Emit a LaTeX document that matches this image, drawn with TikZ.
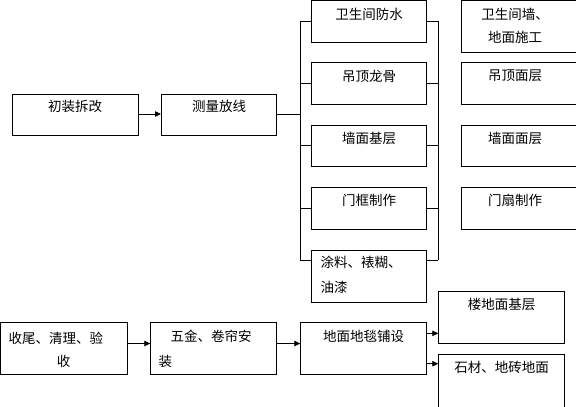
\documentclass[tikz,border=0pt]{standalone}
\usepackage{fontspec}
\newfontfamily\cjk{Noto Sans CJK SC}
\usetikzlibrary{arrows.meta}
\tikzset{
  box/.style={draw=black, line width=0.8bp, inner sep=0pt, outer sep=0pt},
  lbl/.style={inner sep=0pt, font=\cjk\fontsize{13.5bp}{16bp}\selectfont, text=black},
  conn/.style={draw=black, line width=0.8bp},
  arr/.style={conn, -{Triangle[length=6bp,width=5.5bp]}}
}
\newcommand{\mkbox}[5]{\node[box, minimum width=#4-#2, minimum height=#5-#3, anchor=north west] (#1) at (#2,#3) {};}
\begin{document}
\begin{tikzpicture}[x=1bp,y=-1bp]
\useasboundingbox (0,0) rectangle (576,406);
\clip (0,0) rectangle (576,406);
% boxes
\node[box, minimum width=126bp, minimum height=41bp, anchor=north west] (a) at (12,94) {};
\node[box, minimum width=115.5bp, minimum height=41bp, anchor=north west] (b) at (161,94) {};
\node[box, minimum width=115.4bp, minimum height=41.8bp, anchor=north west] (c1) at (311.3,0.5) {};
\node[box, minimum width=115.4bp, minimum height=42bp, anchor=north west] (c2) at (311.3,62.3) {};
\node[box, minimum width=115.4bp, minimum height=41bp, anchor=north west] (c3) at (311.3,125.3) {};
\node[box, minimum width=115.4bp, minimum height=42bp, anchor=north west] (c4) at (311.3,187.3) {};
\node[box, minimum width=115.4bp, minimum height=52bp, anchor=north west] (c5) at (311.3,250.3) {};
\node[box, minimum width=130bp, minimum height=51.8bp, anchor=north west] (d1) at (461.3,0.5) {};
\node[box, minimum width=130bp, minimum height=42bp, anchor=north west] (d2) at (461.3,62.3) {};
\node[box, minimum width=130bp, minimum height=41bp, anchor=north west] (d3) at (461.3,125.3) {};
\node[box, minimum width=130bp, minimum height=42bp, anchor=north west] (d4) at (461.3,187.3) {};
\node[box, minimum width=126.8bp, minimum height=51.6bp, anchor=north west] (e1) at (0.5,322.7) {};
\node[box, minimum width=126bp, minimum height=51.6bp, anchor=north west] (e2) at (150.3,322.7) {};
\node[box, minimum width=126.4bp, minimum height=52bp, anchor=north west] (e3) at (300.3,322.3) {};
\node[box, minimum width=126.4bp, minimum height=52bp, anchor=north west] (f1) at (438.3,291.3) {};
\node[box, minimum width=126.4bp, minimum height=70bp, anchor=north west] (f2) at (438.3,354) {};
% labels
\node[lbl] (ta) at (75,106.5) {初装拆改};
\node[lbl] (tb) at (219,106.5) {测量放线};
\node[lbl] (tc1) at (369,14) {卫生间防水};
\node[lbl] (tc2) at (369,76) {吊顶龙骨};
\node[lbl] (tc3) at (369,138) {墙面基层};
\node[lbl] (tc4) at (369,200) {门框制作};
\node[lbl, anchor=west] (tc5a) at (320.5,262.5) {涂料、裱糊、};
\node[lbl, anchor=west] (tc5b) at (320.5,287.5) {油漆};
\node[lbl] (td1a) at (515,14) {卫生间墙、};
\node[lbl] (td1b) at (515,37.5) {地面施工};
\node[lbl] (td2) at (515,76) {吊顶面层};
\node[lbl] (td3) at (515,138) {墙面面层};
\node[lbl] (td4) at (515,200) {门扇制作};
\node[lbl, anchor=west] (te1a) at (8.5,338.3) {收尾、清理、验};
\node[lbl] (te1b) at (63.7,361.5) {收};
\node[lbl, anchor=west] (te2a) at (170.5,336) {五金、卷帘安};
\node[lbl, anchor=west] (te2b) at (158.5,361) {装};
\node[lbl] (te3) at (363.5,336) {地面地毯铺设};
\node[lbl] (tf1) at (501.5,304) {楼地面基层};
\node[lbl] (tf2) at (501.5,367.5) {石材、地砖地面};
% bracket coordinates
\coordinate (bl) at (300.3,114);
\coordinate (blTop) at (300.3,21.3);
\coordinate (blBot) at (300.3,260.3);
\coordinate (brTop) at (438.3,21.3);
\coordinate (brBot) at (438.3,260.3);
\coordinate (c5tie) at (311.3,260.3);
\coordinate (c5tieR) at (426.7,260.3);
\coordinate (f1tie) at (438.3,333.3);
\coordinate (f2tie) at (438.3,363.7);
% connectors
\draw[arr] (a.east |- 0,114) -- (b.west |- 0,114);
\draw[conn] (b.east |- bl) -- (bl);
\draw[conn] (blTop) -- (blBot);
\draw[conn] (brTop) -- (brBot);
\draw[conn] (blTop) -- (c1.west |- blTop);
\draw[conn] (blTop |- c2.west) -- (c2.west);
\draw[conn] (blTop |- c3.west) -- (c3.west);
\draw[conn] (blTop |- c4.west) -- (c4.west);
\draw[conn] (blBot) -- (c5tie);
\draw[conn] (c1.east |- brTop) -- (brTop);
\draw[conn] (c2.east) -- (brTop |- c2.east);
\draw[conn] (c3.east) -- (brTop |- c3.east);
\draw[conn] (c4.east) -- (brTop |- c4.east);
\draw[conn] (c5tieR) -- (brBot);
\draw[arr] (e1.east |- 0,343.5) -- (e2.west |- 0,343.5);
\draw[arr] (e2.east |- 0,343.5) -- (e3.west |- 0,343.5);
\draw[arr] (e3.east |- f1tie) -- (f1tie);
\draw[arr] (e3.east |- f2tie) -- (f2tie);
\end{tikzpicture}
\end{document}
